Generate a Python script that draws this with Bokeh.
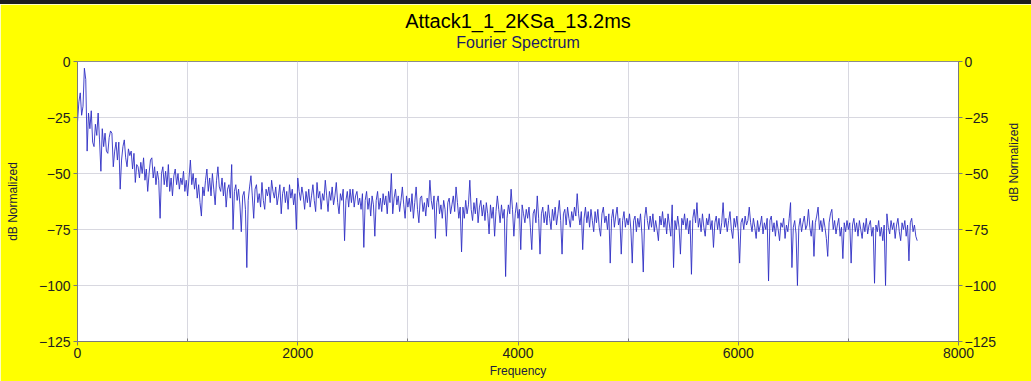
import math
from bokeh.plotting import figure
from bokeh.models import Range1d, LinearAxis, FixedTicker, Title, Div
from bokeh.layouts import column
from bokeh.embed import file_html
from bokeh.resources import INLINE

# Spectrum data: bin spacing in Hz and magnitudes in dB (normalized),
# one row per 250 Hz
freq_step = 12.5
db_values = [
    -27, -18, -14, -24, -20, -3, -8, -40, -23, -30, -22, -36, -38, -28, -33, -23, -35, -49, -30, -38,
    -32, -40, -41, -34, -31, -32, -47, -40, -36, -44, -36, -57, -44, -38, -35, -43, -47, -39, -42, -40,
    -48, -41, -54, -46, -47, -52, -45, -50, -43, -53, -48, -58, -50, -44, -43, -52, -47, -55, -49, -53,
    -70, -50, -47, -55, -49, -56, -46, -58, -52, -60, -51, -48, -55, -50, -57, -52, -55, -49, -58, -53,
    -60, -52, -44, -55, -50, -57, -52, -61, -55, -63, -69, -56, -60, -53, -48, -58, -52, -60, -50, -57,
    -64, -53, -47, -56, -58, -52, -60, -54, -65, -57, -55, -61, -46, -75, -58, -55, -62, -57, -64, -76,
    -60, -58, -66, -92, -62, -56, -51, -60, -70, -57, -55, -63, -59, -65, -54, -62, -66, -57, -60, -56,
    -63, -53, -58, -61, -56, -64, -60, -55, -68, -59, -56, -63, -58, -66, -55, -61, -57, -64, -59, -75,
    -52, -58, -62, -56, -60, -66, -58, -63, -57, -65, -60, -55, -62, -67, -54, -61, -58, -66, -59, -62,
    -53, -60, -67, -58, -62, -56, -64, -60, -54, -63, -68, -59, -62, -57, -80, -62, -58, -65, -57, -63,
    -57, -65, -60, -58, -64, -61, -66, -59, -83, -62, -58, -66, -61, -69, -60, -64, -78, -62, -58, -66,
    -61, -67, -59, -64, -60, -68, -58, -63, -50, -68, -61, -57, -64, -60, -67, -62, -56, -64, -70, -60,
    -65, -61, -67, -59, -70, -63, -56, -66, -72, -61, -60, -67, -63, -69, -61, -65, -53, -62, -66, -60,
    -79, -63, -60, -68, -64, -70, -62, -66, -78, -63, -61, -68, -64, -60, -67, -56, -63, -70, -65, -85,
    -65, -70, -62, -68, -64, -53, -66, -71, -63, -68, -61, -72, -65, -62, -69, -64, -71, -63, -68, -77,
    -64, -70, -65, -78, -67, -60, -66, -72, -64, -70, -66, -96, -70, -64, -68, -57, -66, -78, -68, -63,
    -70, -66, -84, -64, -68, -72, -66, -70, -65, -74, -84, -68, -66, -72, -60, -70, -86, -68, -65, -72,
    -67, -73, -64, -70, -75, -66, -71, -65, -73, -68, -62, -71, -86, -68, -66, -73, -65, -70, -74, -67,
    -71, -65, -69, -59, -68, -73, -67, -84, -70, -65, -72, -67, -74, -66, -71, -76, -67, -72, -66, -74,
    -78, -68, -65, -72, -69, -75, -68, -90, -70, -66, -74, -69, -65, -73, -70, -86, -71, -67, -74, -70,
    -73, -68, -75, -90, -71, -69, -76, -70, -74, -68, -77, -94, -70, -65, -71, -75, -69, -74, -68, -76,
    -71, -75, -80, -69, -73, -67, -74, -70, -77, -68, -73, -78, -64, -92, -71, -75, -69, -74, -86, -70,
    -73, -68, -75, -70, -77, -71, -95, -70, -66, -72, -63, -74, -70, -76, -68, -74, -78, -70, -73, -68,
    -75, -71, -83, -72, -69, -75, -70, -77, -72, -63, -74, -70, -76, -71, -67, -75, -79, -70, -74, -69,
    -76, -90, -72, -70, -75, -69, -73, -71, -65, -72, -76, -70, -74, -79, -71, -76, -73, -69, -77, -72,
    -75, -70, -98, -71, -69, -76, -72, -78, -71, -75, -80, -72, -74, -70, -79, -73, -76, -70, -63, -92,
    -74, -71, -77, -100, -74, -70, -76, -72, -69, -75, -73, -66, -74, -78, -71, -87, -72, -69, -65, -75,
    -71, -76, -70, -74, -79, -87, -72, -68, -66, -75, -71, -77, -73, -70, -78, -74, -88, -72, -76, -71,
    -75, -72, -90, -73, -70, -76, -72, -78, -71, -75, -79, -72, -76, -70, -77, -73, -71, -78, -74, -99,
    -73, -76, -71, -78, -74, -80, -73, -100, -68, -74, -77, -71, -75, -72, -79, -73, -70, -76, -80, -72,
    -75, -71, -78, -73, -89, -72, -70, -76, -73, -78, -80,
]
frequencies = [i * freq_step for i in range(len(db_values))]

x_major_ticks = [0, 2000, 4000, 6000, 8000]
x_minor_ticks = [1000, 3000, 5000, 7000]
x_grid_ticks = [0, 1000, 2000, 3000, 4000, 5000, 6000, 7000, 8000]
y_ticks = [-125, -100, -75, -50, -25, 0]

FONT = "Liberation Sans"
YELLOW = "#ffff00"

p = figure(
    width=1031, height=377,
    x_range=Range1d(0, 8000), y_range=Range1d(-125, 0),
    output_backend="svg", toolbar_location=None,
    min_border_left=77, min_border_right=72,
    min_border_top=57, min_border_bottom=40,
)
p.title.text = ""
p.background_fill_color = "white"
p.border_fill_color = YELLOW
p.outline_line_color = "#8c8c8c"

# stacked headings: subtitle nearest the frame, main title above it
p.add_layout(Title(text="Fourier Spectrum", align="center", text_font=FONT,
                   text_font_size="16px", text_font_style="normal",
                   text_color="#1c1c66", standoff=22), "above")
p.add_layout(Title(text="Attack1_1_2KSa_13.2ms", align="center", text_font=FONT,
                   text_font_size="20px", text_font_style="normal",
                   text_color="#000000", standoff=-22), "above")

p.line(frequencies, db_values, line_color="#3030c4", line_width=1, line_alpha=0.9)

# x axis
xa = p.xaxis[0]
xa.ticker = FixedTicker(ticks=x_major_ticks, minor_ticks=x_minor_ticks)
xa.axis_label = "Frequency"

# left y axis
ya = p.yaxis[0]
ya.ticker = FixedTicker(ticks=y_ticks)
ya.axis_label = "dB Normalized"

# right y axis mirroring the left one, label read bottom-to-top
yr = LinearAxis(ticker=FixedTicker(ticks=y_ticks), axis_label="dB Normalized")
yr.axis_label_orientation = math.pi / 2
p.add_layout(yr, "right")

for ax in [xa, ya, yr]:
    ax.axis_line_color = "#7a7a7a"
    ax.major_tick_line_color = "#7a7a7a"
    ax.minor_tick_line_color = "#7a7a7a"
    ax.major_tick_in = 0
    ax.major_tick_out = 4
    ax.minor_tick_in = 3
    ax.minor_tick_out = 0
    ax.major_label_text_font = FONT
    ax.major_label_text_font_size = "14px"
    ax.major_label_text_color = "#222222"
    ax.axis_label_text_font = FONT
    ax.axis_label_text_font_size = "12px"
    ax.axis_label_text_font_style = "normal"
    ax.axis_label_text_color = "#202040"

xa.major_label_standoff = 2
xa.axis_label_standoff = 3
ya.major_label_standoff = 3
ya.axis_label_standoff = 16
yr.major_label_standoff = 2
yr.axis_label_standoff = 15
ya.minor_tick_line_color = None
yr.minor_tick_line_color = None

p.xgrid.ticker = FixedTicker(ticks=x_grid_ticks)
p.ygrid.ticker = FixedTicker(ticks=y_ticks)
p.xgrid.grid_line_color = "#d8d8e0"
p.ygrid.grid_line_color = "#d8d8e0"

top_strip = Div(text="", width=1031, height=4, margin=(0, 0, 0, 0),
                styles={"background-color": "#1e1e1e"})
layout = column(top_strip, p, spacing=0)

open("out.html", "w").write(file_html(layout, INLINE))
